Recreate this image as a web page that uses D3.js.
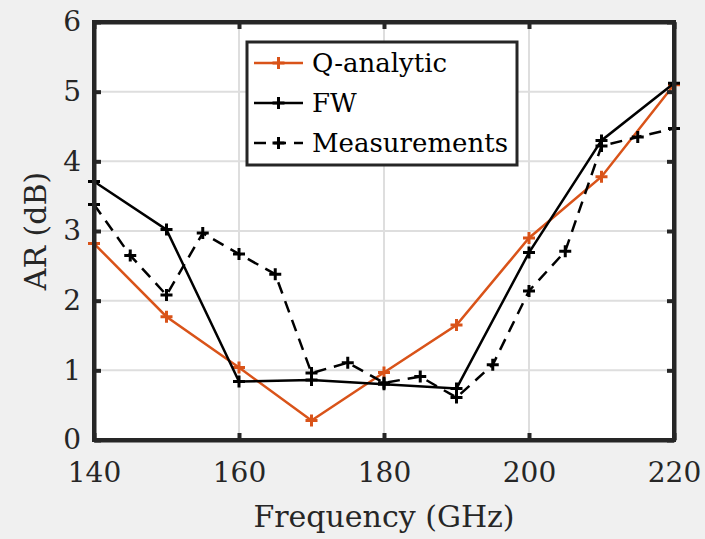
<!DOCTYPE html>
<html>
<head>
<meta charset="utf-8">
<script src="https://cdn.jsdelivr.net/npm/d3@7"></script>
<style>
  html, body { margin: 0; padding: 0; background: #f0f0f0; }
  svg { display: block; font-family: "DejaVu Serif", serif; }
</style>
</head>
<body>
<div id="app"></div>
<script>
// Data
const freqs = [140, 150, 160, 170, 180, 190, 200, 210, 220];
const qAnalytic = [2.82, 1.77, 1.04, 0.28, 0.97, 1.65, 2.9, 3.78, 5.1];
const fw = [3.71, 3.02, 0.84, 0.86, 0.8, 0.74, 2.69, 4.3, 5.12];

const measFreqs = [140, 145, 150, 155, 160, 165, 170, 175, 180, 185, 190, 195, 200, 205, 210, 215, 220];
const measurements = [3.38, 2.65, 2.08, 2.97, 2.67, 2.38, 0.96, 1.11, 0.82, 0.91, 0.61, 1.08, 2.14, 2.71, 4.22, 4.35, 4.47];

const xTicks = [140, 160, 180, 200, 220];
const yTicks = [0, 1, 2, 3, 4, 5, 6];

const series = [
  {name: 'Q-analytic', x: freqs, y: qAnalytic, color: '#D95319', dash: null},
  {name: 'FW', x: freqs, y: fw, color: '#000000', dash: null},
  {name: 'Measurements', x: measFreqs, y: measurements, color: '#000000', dash: '12,8'}
];

const W = 705, H = 539;
const margin = {top: 22, right: 31, bottom: 99, left: 94};
const width = W - margin.left - margin.right;
const height = H - margin.top - margin.bottom;
const axisColor = '#262626';

const x = d3.scaleLinear().domain([140, 220]).range([0, width]);
const y = d3.scaleLinear().domain([0, 6]).range([height, 0]);

const svg = d3.select('#app').append('svg')
  .attr('width', W)
  .attr('height', H);

const g = svg.append('g')
  .attr('transform', `translate(${margin.left},${margin.top})`);

// plot background
g.append('rect')
  .attr('width', width)
  .attr('height', height)
  .attr('fill', '#fff');

// grid
g.append('g').selectAll('line')
  .data(xTicks)
  .join('line')
  .attr('x1', d => x(d)).attr('x2', d => x(d))
  .attr('y1', 0).attr('y2', height)
  .attr('stroke', '#dedede').attr('stroke-width', 2);

g.append('g').selectAll('line')
  .data(yTicks)
  .join('line')
  .attr('y1', d => y(d)).attr('y2', d => y(d))
  .attr('x1', 0).attr('x2', width)
  .attr('stroke', '#dedede').attr('stroke-width', 2);

// series
const line = d3.line().x(d => x(d[0])).y(d => y(d[1]));
series.forEach(s => {
  const pts = s.x.map((v, i) => [v, s.y[i]]);
  g.append('path')
    .datum(pts)
    .attr('d', line)
    .attr('fill', 'none')
    .attr('stroke', s.color)
    .attr('stroke-width', 2.5)
    .attr('stroke-dasharray', s.dash);

  const m = 6;
  g.append('g').selectAll('path')
    .data(pts)
    .join('path')
    .attr('d', d => `M${x(d[0]) - m},${y(d[1])}h${2 * m}M${x(d[0])},${y(d[1]) - m}v${2 * m}`)
    .attr('stroke', s.color)
    .attr('stroke-width', 3);
});

// axes (MATLAB style: ticks inside, box on)
const tickLen = 7;
const fontSize = 28;

const xAxis = g.append('g')
  .attr('transform', `translate(0,${height})`)
  .call(d3.axisBottom(x).tickValues(xTicks).tickFormat(d3.format('d'))
    .tickSizeInner(-tickLen).tickSizeOuter(0).tickPadding(22));
const yAxis = g.append('g')
  .call(d3.axisLeft(y).tickValues(yTicks).tickFormat(d3.format('d'))
    .tickSizeInner(-tickLen).tickSizeOuter(0).tickPadding(13));
const xTop = g.append('g')
  .call(d3.axisTop(x).tickValues(xTicks).tickSizeInner(-tickLen).tickSizeOuter(0).tickFormat(''));
const yRight = g.append('g')
  .attr('transform', `translate(${width},0)`)
  .call(d3.axisRight(y).tickValues(yTicks).tickSizeInner(-tickLen).tickSizeOuter(0).tickFormat(''));

[xAxis, yAxis, xTop, yRight].forEach(a => {
  a.select('.domain').attr('stroke', axisColor).attr('stroke-width', 4);
  a.selectAll('.tick line').attr('stroke', axisColor).attr('stroke-width', 4);
  a.selectAll('.tick text')
    .attr('fill', axisColor)
    .style('font-size', fontSize + 'px')
    .style('font-family', '"DejaVu Serif", serif');
});
// box corners
g.append('rect')
  .attr('width', width).attr('height', height)
  .attr('fill', 'none').attr('stroke', axisColor).attr('stroke-width', 4);

// axis labels
g.append('text')
  .attr('x', width / 2)
  .attr('y', height + 87)
  .attr('text-anchor', 'middle')
  .attr('fill', axisColor)
  .style('font-size', '30px')
  .text('Frequency (GHz)');

g.append('text')
  .attr('transform', 'rotate(-90)')
  .attr('x', -height / 2)
  .attr('y', -48)
  .attr('text-anchor', 'middle')
  .attr('fill', axisColor)
  .style('font-size', '30px')
  .text('AR (dB)');

// legend
const lg = svg.append('g').attr('transform', 'translate(247,42)');
lg.append('rect')
  .attr('width', 270).attr('height', 123)
  .attr('fill', '#fff')
  .attr('stroke', axisColor).attr('stroke-width', 3);

series.forEach((s, i) => {
  const ry = 21 + i * 40;
  const row = lg.append('g').attr('transform', `translate(0,${ry})`);
  row.append('line')
    .attr('x1', 7).attr('x2', 56)
    .attr('stroke', s.color).attr('stroke-width', 2.5)
    .attr('stroke-dasharray', s.dash);
  row.append('path')
    .attr('d', 'M25.5,0h12M31.5,-6v12')
    .attr('stroke', s.color).attr('stroke-width', 3);
  row.append('text')
    .attr('x', 65)
    .attr('y', 0)
    .attr('dy', '0.35em')
    .attr('fill', '#000')
    .style('font-size', '26px')
    .text(s.name);
});
</script>
</body>
</html>
